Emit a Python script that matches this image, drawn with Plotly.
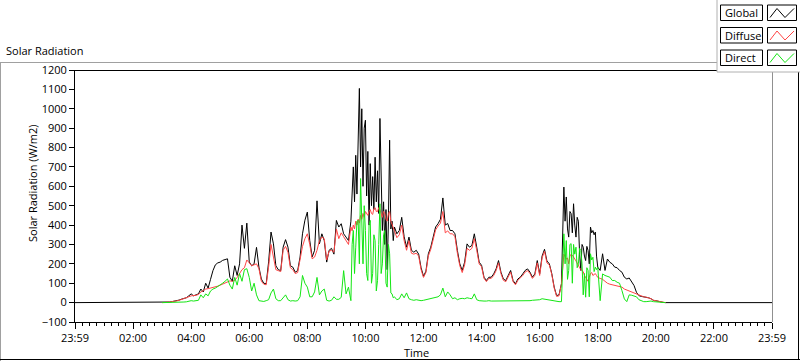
import plotly.graph_objects as go

# sampling times (minutes after midnight): 5-min steps, 2.5-min steps in the gusty periods
time_min = (list(range(180, 570, 5))                      # 03:00 .. 09:25
            + [570 + 2.5 * i for i in range(36)]          # 09:30 .. 10:57.5
            + list(range(660, 1010, 5))                   # 11:00 .. 16:45
            + [1010 + 2.5 * i for i in range(28)]         # 16:50 .. 17:57.5
            + list(range(1080, 1221, 5)))                 # 18:00 .. 20:20

global_wm2 = [
    0, 0, 1, 3, 5, 7, 10, 13, 18, 22, 25, 35,                      # 03
    45, 35, 40, 45, 70, 55, 100, 75, 120, 165, 195, 205,           # 04
    209, 218, 222, 226, 131, 110, 190, 140, 200, 400, 280, 410,    # 05
    210, 190, 200, 285, 183, 122, 100, 97, 210, 364, 303, 190,     # 06
    170, 165, 286, 325, 286, 190, 183, 157, 165, 235, 355, 425,    # 07
    467, 320, 235, 270, 525, 303, 355, 320, 209, 270, 280, 250,    # 08
    424, 390, 407, 355, 338, 320,                                  # 09:00-09:25
    420, 600, 700, 520, 760, 560, 838, 1105, 700, 1000, 600, 900,  # 09:30-09:57.5
    941, 550, 780, 400, 717, 500, 650, 480, 750, 520, 680, 460,    # 10:00-10:27.5
    950, 600, 372, 520, 300, 480, 170, 420, 838, 380, 420, 320,    # 10:30-10:57.5
    390, 355, 372, 440, 340, 286, 338, 270, 260, 270, 250, 180,    # 11
    136, 162, 252, 286, 338, 390, 407, 430, 540, 400, 408, 372,    # 12
    372, 355, 269, 200, 166, 209, 303, 286, 295, 355, 286, 209,    # 13
    192, 131, 114, 131, 131, 148, 174, 217, 157, 122, 114, 140,    # 14
    166, 114, 97, 122, 131, 148, 166, 174, 157, 131, 148, 217,     # 15
    148, 240, 275, 215, 200, 150, 80, 36, 40, 97,                  # 16:00-16:45
    596, 420, 545, 380, 338, 470, 459, 360, 510, 400, 338, 440,    # 16:50-17:17.5
    420, 250, 166, 300, 286, 240, 217, 290, 269, 200, 390, 360,    # 17:20-17:47.5
    372, 350, 364, 240,                                            # 17:50-17:57.5
    183, 166, 252, 166, 225, 208, 200, 183, 180, 166, 157, 131,    # 18
    122, 127, 105, 88, 53, 36, 32, 30, 28, 25, 20, 12,             # 19
    10, 6, 3, 1, 0,                                                # 20
]

diffuse_wm2 = [
    0, 0, 1, 3, 5, 6, 9, 12, 16, 20, 22, 30,
    35, 35, 38, 42, 55, 62, 70, 72, 75, 78, 80, 85,
    90, 95, 100, 108, 112, 110, 115, 130, 150, 170, 180, 220,
    205, 190, 195, 200, 175, 110, 95, 92, 185, 300, 235, 170,
    165, 160, 270, 290, 260, 180, 170, 150, 155, 215, 290, 330,
    355, 300, 226, 235, 270, 320, 338, 330, 220, 265, 270, 260,
    380, 330, 360, 340, 320, 300,
    390, 370, 400, 380, 420, 400, 430, 410, 450, 430, 460, 440,
    470, 455, 450, 470, 480, 460, 455, 485, 490, 470, 470, 490,
    480, 460, 440, 470, 460, 430, 420, 460, 470, 420, 400, 380,
    370, 335, 350, 400, 320, 270, 320, 255, 250, 255, 240, 170,
    130, 155, 240, 275, 320, 375, 395, 410, 470, 360, 370, 355,
    355, 340, 255, 190, 155, 195, 280, 270, 280, 330, 270, 200,
    185, 125, 108, 125, 125, 140, 165, 205, 150, 115, 108, 132,
    158, 108, 92, 115, 125, 140, 158, 165, 150, 125, 140, 205,
    140, 230, 265, 205, 195, 145, 75, 32, 35, 95,
    250, 240, 225, 230, 200, 240, 250, 245, 230, 225, 215, 200,
    190, 180, 170, 165, 160, 140, 130, 120, 110, 130, 150, 155,
    140, 145, 150, 140,
    130, 125, 120, 110, 100, 95, 92, 90, 88, 85, 80, 70,
    65, 60, 55, 50, 42, 38, 32, 30, 28, 25, 20, 12,
    10, 6, 3, 1, 0,
]

direct_wm2 = [
    0, 0, 0, 0, 1, 1, 1, 2, 3, 3, 4, 8,
    10, 8, 10, 12, 40, 25, 45, 35, 60, 70, 75, 82,
    90, 100, 110, 122, 90, 70, 130, 90, 150, 110, 170, 175,
    130, 60, 100, 40, 10, 8, 6, 10, 15, 50, 70, 20,
    10, 10, 25, 40, 15, 8, 10, 8, 10, 30, 140, 100,
    80, 30, 30, 55, 130, 40, 60, 70, 12, 8, 12, 30,
    17, 17, 27, 165, 45, 80,
    10, 300, 372, 150, 286, 420, 424, 200, 640, 350, 200, 500,
    372, 150, 114, 400, 424, 100, 150, 350, 320, 60, 114, 300,
    510, 150, 200, 350, 372, 100, 80, 300, 252, 50, 45, 25,
    30, 15, 20, 45, 25, 50, 20, 15, 12, 15, 12, 10,
    12, 15, 20, 22, 25, 27, 30, 40, 75, 30, 55, 40,
    20, 25, 15, 20, 22, 20, 25, 22, 20, 45, 15, 10,
    8, 8, 8, 10, 8, 8, 10, 8, 8, 8, 8, 8,
    8, 8, 8, 8, 8, 8, 10, 10, 10, 12, 12, 15,
    15, 20, 18, 15, 12, 10, 8, 5, 5, 5,
    355, 200, 320, 120, 166, 300, 304, 100, 300, 250, 286, 180,
    200, 280, 269, 200, 40, 150, 28, 180, 166, 30, 252, 220,
    234, 160, 183, 170,
    183, 10, 148, 140, 135, 131, 114, 114, 105, 100, 62, 19,
    5, 40, 38, 35, 30, 15, 8, 5, 5, 8, 8, 5,
    4, 3, 2, 1, 0,
]

assert len(time_min) == len(global_wm2) == len(diffuse_wm2) == len(direct_wm2)

tick_hours = [0, 2, 4, 6, 8, 10, 12, 14, 16, 18, 20, 22, 24]
tick_labels = ["23:59", "02:00", "04:00", "06:00", "08:00", "10:00", "12:00",
               "14:00", "16:00", "18:00", "20:00", "22:00", "23:59"]

series_names = ["Global", "Diffuse", "Direct"]
series_colors = ["#000000", "#ff4545", "#14e614"]

FONT = "Open Sans"

hours = [m / 60 for m in time_min]
# Global is recorded through the whole day (zero at night)
g_x = [0] + hours + [24]
g_y = [0] + global_wm2 + [0]

fig = go.Figure()
fig.add_trace(go.Scatter(x=g_x, y=g_y, mode="lines", name=series_names[0],
                         line=dict(color=series_colors[0], width=1), showlegend=False))
fig.add_trace(go.Scatter(x=hours, y=diffuse_wm2, mode="lines", name=series_names[1],
                         line=dict(color=series_colors[1], width=1), showlegend=False))
fig.add_trace(go.Scatter(x=hours, y=direct_wm2, mode="lines", name=series_names[2],
                         line=dict(color=series_colors[2], width=1), showlegend=False))

# plot area in pixels
L, R, T, B = 75, 772, 70, 322
W, H = 800, 361


def px(x):
    return (x - L) / (R - L)


def py(y):
    return (B - y) / (B - T)


def line(x0, y0, x1, y1, color, width=1):
    return dict(type="line", xref="paper", yref="paper", x0=px(x0), y0=py(y0),
                x1=px(x1), y1=py(y1), line=dict(color=color, width=width), layer="above")


shapes = [
    # outer panel frame
    line(0, 62.5, 717, 62.5, "#a0a0a0"),
    line(0.5, 62, 0.5, 361, "#a0a0a0"),
    line(0, 359.5, 800, 359.5, "#000000"),
    line(798.5, 72, 798.5, 360, "#000000"),
    # plot area frame
    line(75, 70.5, 772, 70.5, "#000000"),
    line(772.5, 70, 772.5, 322, "#909090"),
    # legend panel
    dict(type="rect", xref="paper", yref="paper", x0=px(717), y0=py(72),
         x1=px(801), y1=py(-2), fillcolor="white",
         line=dict(color="#b0b0b0", width=1), layer="above"),
]

annotations = [
    dict(text="Solar Radiation", x=px(4), y=py(50), xref="paper", yref="paper",
         xanchor="left", yanchor="middle", showarrow=False,
         font=dict(family=FONT, size=11, color="#000")),
    dict(text="Solar Radiation (W/m2)", x=px(32), y=py(184), xref="paper", yref="paper",
         xanchor="center", yanchor="middle", textangle=-90, showarrow=False,
         font=dict(family=FONT, size=11, color="#000")),
    dict(text="Time", x=px(416), y=py(352), xref="paper", yref="paper",
         xanchor="center", yanchor="middle", showarrow=False,
         font=dict(family=FONT, size=11, color="#000")),
]

box_tops = [5, 27.5, 50]
for name, color, top in zip(series_names, series_colors, box_tops):
    bot = top + 15.5
    shapes.append(dict(type="rect", xref="paper", yref="paper",
                       x0=px(720.5), y0=py(bot), x1=px(762.5), y1=py(top),
                       fillcolor="white", line=dict(color="#000", width=1), layer="above"))
    shapes.append(dict(type="rect", xref="paper", yref="paper",
                       x0=px(767.5), y0=py(bot), x1=px(796.5), y1=py(top),
                       fillcolor="white", line=dict(color="#000", width=1), layer="above"))
    pts = [(770, bot - 3), (777, top + 3.5), (785, bot - 3), (794, top + 3.5)]
    path = "M " + " L ".join(f"{px(a)},{py(b)}" for a, b in pts)
    shapes.append(dict(type="path", xref="paper", yref="paper", path=path,
                       line=dict(color=color, width=1), layer="above"))
    annotations.append(dict(text=name, x=px(723), y=py((top + bot) / 2), xref="paper",
                            yref="paper", xanchor="left", yanchor="middle", showarrow=False,
                            font=dict(family=FONT, size=11, color="#000")))

fig.update_layout(
    width=W, height=H,
    margin=dict(l=L, r=W - R, t=T, b=H - B, pad=0),
    paper_bgcolor="white", plot_bgcolor="white",
    font=dict(family=FONT, size=11, color="#000"),
    showlegend=False,
    shapes=shapes, annotations=annotations,
    xaxis=dict(range=[0, 24], tickmode="array", tickvals=tick_hours, ticktext=tick_labels,
               ticks="outside", ticklen=6, tickwidth=1, tickcolor="#000",
               showline=True, linecolor="#000", linewidth=1,
               showgrid=False, zeroline=False,
               minor=dict(tickmode="array", tickvals=[i * 0.25 for i in range(97)],
                          ticks="outside", ticklen=3, tickwidth=1, tickcolor="#000",
                          showgrid=False),
               tickfont=dict(family=FONT, size=11, color="#000")),
    yaxis=dict(range=[-100, 1200], tickmode="linear", tick0=-100, dtick=100,
               ticks="outside", ticklen=5, tickwidth=1, tickcolor="#000",
               showline=True, linecolor="#000", linewidth=1,
               showgrid=False, zeroline=False,
               tickfont=dict(family=FONT, size=11, color="#000")),
)

fig.write_html("out.html", config={"displayModeBar": False},
               post_script="document.body.style.margin='0';document.body.style.padding='0';")
